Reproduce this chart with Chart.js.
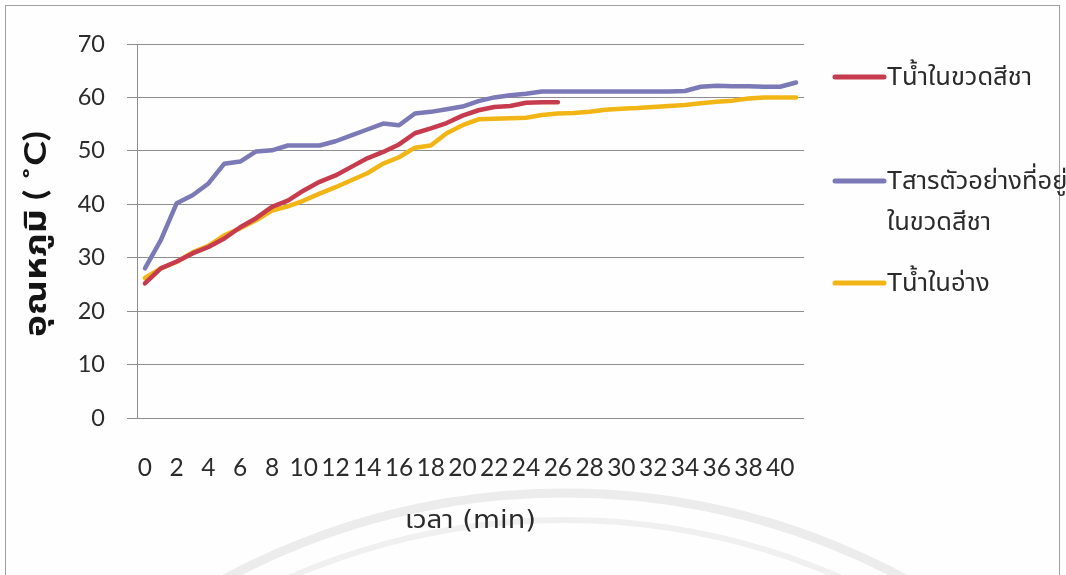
<!DOCTYPE html>
<html lang="th">
<head>
<meta charset="utf-8">
<title>อุณหภูมิกับเวลา</title>
<script src="https://cdn.jsdelivr.net/npm/chart.js@4"></script>
<style>
  html, body { margin: 0; padding: 0; background: #ffffff; }
  #wrap { position: relative; width: 1066px; height: 575px; overflow: hidden; background: #fefefe; }
  #frame { position: absolute; left: 5px; top: 5px; width: 1055px; height: 600px;
           border: 1px solid #a0a0a0; box-sizing: border-box; }
  #seal { position: absolute; left: 0; top: 0; }
  canvas#c { position: absolute; left: 0; top: 0; }
</style>
</head>
<body>
<div id="wrap">
  <div id="frame"></div>
  <svg id="seal" width="1066" height="575">
    <circle cx="565" cy="1210" r="717" fill="none" stroke="#ececec" stroke-width="9"/>
    <circle cx="565" cy="1210" r="690" fill="none" stroke="#f0f0f0" stroke-width="6"/>
  </svg>
  <canvas id="c" width="1066" height="575"></canvas>
</div>
<script>
// time in minutes (one reading per minute)
const minutes = [0,1,2,3,4,5,6,7,8,9,10,11,12,13,14,15,16,17,18,19,20,
                 21,22,23,24,25,26,27,28,29,30,31,32,33,34,35,36,37,38,39,40,41];

// water inside the amber bottle (stops at 26 min)
const waterInBottle = [25.2,28,29.3,30.8,32,33.6,35.7,37.4,39.5,40.7,42.6,
                       44.2,45.4,47,48.6,49.8,51.2,53.3,54.2,55.2,56.6,
                       57.6,58.2,58.4,59,59.1,59.1];

// sample inside the amber bottle
const sampleInBottle = [28,33.3,40.2,41.7,43.9,47.6,48,49.9,50.1,51,51,
                        51,51.8,52.9,54,55.1,54.8,57,57.3,57.8,58.3,
                        59.3,60,60.4,60.7,61.1,61.1,61.1,61.1,61.1,61.1,
                        61.1,61.1,61.1,61.2,62,62.2,62.1,62.1,62,62,62.8];

// water in the bath
const waterInBath = [26.2,28,29.2,31,32.2,34.2,35.5,37,38.8,39.6,40.7,
                     42,43.2,44.5,45.8,47.6,48.8,50.6,51,53.3,54.8,
                     55.9,56,56.1,56.2,56.7,57,57.1,57.3,57.7,57.9,
                     58,58.2,58.4,58.6,58.9,59.2,59.4,59.8,60,60,60];

const seriesNames = ['Tน้ำในขวดสีชา', 'Tสารตัวอย่างที่อยู่ในขวดสีชา', 'Tน้ำในอ่าง'];
const legendLines = [['Tน้ำในขวดสีชา'], ['Tสารตัวอย่างที่อยู่', 'ในขวดสีชา'], ['Tน้ำในอ่าง']];
const seriesColors = ['#c63b4d', '#7c79b7', '#f1b516'];
const yTicks = [0, 10, 20, 30, 40, 50, 60, 70];
const xTitle = 'เวลา (min)';
const yTitle = 'อุณหภูมิ ( ˚C)';

const FONT = "Lato, 'Noto Sans Thai', 'Noto Sans', sans-serif";
const TEXT = '#2b2b2b';
const GRID = '#8e8e8e';

// draws a string centred on (cx, cy), stretched along its baseline to a given length
function fittedText(ctx, text, cx, cy, length, angle) {
  ctx.save();
  ctx.translate(cx, cy);
  ctx.rotate(angle);
  const w = ctx.measureText(text).width;
  ctx.scale(length / w, 1);
  ctx.textAlign = 'center';
  ctx.textBaseline = 'middle';
  ctx.fillText(text, 0, 0);
  ctx.restore();
}

// axis titles and the legend at the right side
const legendRows = [77, 181, 283];
const annotations = {
  id: 'annotations',
  afterDraw(chart) {
    const ctx = chart.ctx;
    const area = chart.chartArea;
    ctx.save();
    ctx.fillStyle = TEXT;

    ctx.font = "24px 'DejaVu Sans', " + FONT;
    fittedText(ctx, xTitle, (area.left + area.right) / 2, 522, 131, 0);

    ctx.fillStyle = '#151515';
    ctx.font = 'bold 30px ' + FONT;
    fittedText(ctx, yTitle, 36, (area.top + area.bottom) / 2 + 3, 206, -Math.PI / 2);

    ctx.fillStyle = TEXT;
    ctx.font = '25.5px ' + FONT;
    ctx.textBaseline = 'middle';
    ctx.textAlign = 'left';
    chart.data.datasets.forEach((ds, i) => {
      const y = legendRows[i];
      ctx.strokeStyle = ds.borderColor;
      ctx.lineWidth = 5;
      ctx.lineCap = 'round';
      ctx.beginPath();
      ctx.moveTo(835, y);
      ctx.lineTo(884, y);
      ctx.stroke();
      legendLines[i].forEach((t, k) => ctx.fillText(t, 887, y + k * 41));
    });
    ctx.restore();
  }
};

new Chart(document.getElementById('c'), {
  type: 'line',
  data: {
    labels: minutes,
    datasets: seriesNames.map((name, i) => ({
      label: name,
      data: [waterInBottle, sampleInBottle, waterInBath][i],
      borderColor: seriesColors[i],
      backgroundColor: seriesColors[i],
      borderWidth: 4.5,
      pointRadius: 0,
      tension: 0,
      borderJoinStyle: 'round',
      borderCapStyle: 'round',
      spanGaps: false
    }))
  },
  options: {
    responsive: false,
    animation: false,
    devicePixelRatio: 1,
    layout: { padding: { top: 44, right: 262, bottom: 0, left: 0 } },
    plugins: { legend: { display: false }, tooltip: { enabled: false } },
    scales: {
      x: {
        offset: true,
        grid: { display: false, drawTicks: false },
        border: { display: false },
        ticks: {
          autoSkip: false,
          maxRotation: 0,
          padding: 35,
          color: TEXT,
          font: { family: FONT, size: 24.5 },
          callback: (v, i) => (minutes[i] % 2 === 0 ? String(minutes[i]) : '')
        },
        afterFit(s) { s.height = 575 - 418; }
      },
      y: {
        min: 0,
        max: 70,
        afterBuildTicks(s) { s.ticks = yTicks.map(v => ({ value: v })); },
        grid: { color: GRID, lineWidth: 1, tickLength: 10, drawTicks: true, tickColor: GRID },
        border: { display: true, color: GRID, width: 1 },
        ticks: {
          padding: 22,
          color: TEXT,
          font: { family: FONT, size: 23.5 }
        },
        afterFit(s) { s.width = 137; }
      }
    }
  },
  plugins: [annotations]
});
</script>
</body>
</html>
